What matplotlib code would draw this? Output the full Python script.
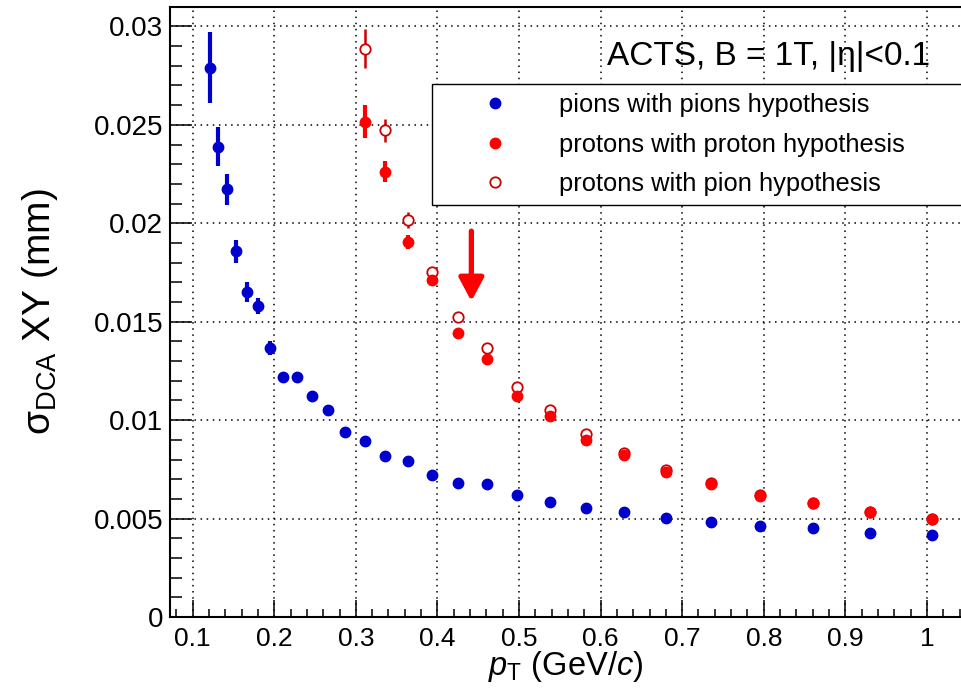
import matplotlib
matplotlib.use("Agg")
import matplotlib.pyplot as plt
from matplotlib.ticker import MultipleLocator

plt.rcParams["font.family"] = ["Liberation Sans", "DejaVu Sans"]
plt.rcParams["mathtext.fontset"] = "custom"
plt.rcParams["mathtext.rm"] = "Liberation Sans"
plt.rcParams["mathtext.it"] = "Liberation Sans:italic"

# pions with pion hypothesis
pi_pt = [0.121, 0.1313, 0.1416, 0.1534, 0.1661, 0.180, 0.1947, 0.2102, 0.2273, 0.2457,
         0.266, 0.2873, 0.311, 0.3363, 0.364, 0.3934, 0.4252, 0.4604, 0.4971, 0.5383,
         0.5819, 0.6293, 0.6804, 0.7358, 0.7958, 0.8607, 0.9305, 1.0065]
pi_sig = [0.02791, 0.0239, 0.02172, 0.01858, 0.0165, 0.01579, 0.01367, 0.01221, 0.01221, 0.01125,
          0.0105, 0.00939, 0.00896, 0.0082, 0.0079, 0.0072, 0.00681, 0.00676, 0.00618, 0.00586,
          0.00554, 0.00532, 0.00502, 0.00481, 0.00463, 0.00453, 0.00429, 0.00415]
pi_err = [0.0018, 0.001, 0.0008, 0.00058, 0.0005, 0.0004, 0.00036, 0.0002, 0.0002, 0.00015,
          0.00012, 0.0001, 0.0001, 0.0001, 0.0001, 0.0001, 0.0001, 0.0001, 0.0001, 0.0001,
          0.0001, 0.0001, 0.0001, 0.0001, 0.0001, 0.0001, 0.0001, 0.0001]

# protons, shared pT bins
p_pt = [0.311, 0.3363, 0.364, 0.3934, 0.4252, 0.4604, 0.4971, 0.5383, 0.5819, 0.6293,
        0.6804, 0.7358, 0.7958, 0.8607, 0.9305, 1.0065]
# protons with proton hypothesis
pp_sig = [0.02516, 0.02262, 0.01904, 0.01711, 0.01443, 0.01311, 0.01125, 0.0102, 0.00898, 0.00825,
          0.00735, 0.00676, 0.00615, 0.0058, 0.00532, 0.00498]
pp_err = [0.00084, 0.00053, 0.00035, 0.00025, 0.0002, 0.00015, 0.00015, 0.0001, 0.0001, 0.0001,
          0.0001, 0.0001, 0.0001, 0.0001, 0.0001, 0.0001]
# protons with pion hypothesis
ppi_sig = [0.02887, 0.02473, 0.02018, 0.01751, 0.01523, 0.01367, 0.01167, 0.01049, 0.00932, 0.00835,
           0.00749, 0.00683, 0.00619, 0.00581, 0.00535, 0.005]
ppi_err = [0.00099, 0.00058, 0.0004, 0.00025, 0.0002, 0.00015, 0.00015, 0.0001, 0.0001, 0.0001,
           0.0001, 0.0001, 0.0001, 0.0001, 0.0001, 0.0001]

y_ticks = [0, 0.005, 0.01, 0.015, 0.02, 0.025, 0.03]
y_ticklabels = ["0", "0.005", "0.01", "0.015", "0.02", "0.025", "0.03"]
x_ticks = [0.1, 0.2, 0.3, 0.4, 0.5, 0.6, 0.7, 0.8, 0.9, 1.0]
x_ticklabels = ["0.1", "0.2", "0.3", "0.4", "0.5", "0.6", "0.7", "0.8", "0.9", "1"]

blue = "#0000cc"
red = "#ff0000"
dark_red = "#cc0000"

fig = plt.figure(figsize=(9.62, 6.88), dpi=100)
ax = fig.add_axes([0.1767, 0.1032, 0.8233, 0.8870])

ax.grid(True, which="major", color="black", linestyle=(0, (1, 3)), linewidth=1.1)
ax.set_axisbelow(True)

eb_ppi = ax.errorbar(p_pt, ppi_sig, yerr=ppi_err, fmt="o", color=dark_red, mfc="white",
                     mec=dark_red, mew=1.3, ms=7.5, elinewidth=1.8, capsize=0, zorder=3)
eb_pp = ax.errorbar(p_pt, pp_sig, yerr=pp_err, fmt="o", color=red, ms=7.5, elinewidth=3,
                    capsize=0, zorder=4)
eb_pi = ax.errorbar(pi_pt, pi_sig, yerr=pi_err, fmt="o", color=blue, ms=7.5, elinewidth=3,
                    capsize=0, zorder=4)

ax.annotate("", xy=(0.4416, 0.01604), xytext=(0.4416, 0.0196),
            arrowprops=dict(arrowstyle="-|>,head_length=1.4,head_width=0.75", color=red,
                            lw=3.8, shrinkA=0, shrinkB=0))

ax.set_xlim(0.0722, 1.043)
ax.set_ylim(0, 0.031)
ax.set_xticks(x_ticks)
ax.set_xticklabels(x_ticklabels)
ax.set_yticks(y_ticks)
ax.set_yticklabels(y_ticklabels)
ax.xaxis.set_minor_locator(MultipleLocator(0.02))
ax.yaxis.set_minor_locator(MultipleLocator(0.001))
ax.tick_params(axis="both", which="both", direction="in", top=False, right=False)
ax.tick_params(axis="y", which="major", length=16, width=1.1, pad=5, labelsize=20)
ax.tick_params(axis="y", which="minor", length=8.5, width=1.1)
ax.tick_params(axis="x", which="major", length=12.5, width=1.1, pad=7, labelsize=19)
ax.tick_params(axis="x", which="minor", length=6, width=1.1)
for side in ["left", "bottom", "top"]:
    ax.spines[side].set_linewidth(1.5)
ax.spines["right"].set_visible(False)

ax.set_xlabel("$p_{\\mathrm{T}}$ (GeV/$c$)", fontsize=23.5, labelpad=-1)
ax.set_ylabel("σ$_{\\mathrm{DCA}}$ XY (mm)", fontsize=28, labelpad=24)

leg = ax.legend([eb_pi[0], eb_pp[0], eb_ppi[0]],
                ["pions with pions hypothesis", "protons with proton hypothesis",
                 "protons with pion hypothesis"],
                loc="upper left", bbox_to_anchor=(0.331, 0.873, 0.669, 0), mode="expand",
                fontsize=18.4, frameon=True, fancybox=False, framealpha=1,
                edgecolor="black", borderpad=0.35, handlelength=4.2, handletextpad=0.4,
                labelspacing=0.6, borderaxespad=0)
leg.get_frame().set_linewidth(1.0)

fig.text(0.9667, 0.9055, "ACTS, B = 1T, |η|<0.1", fontsize=24, ha="right", va="baseline")

fig.savefig("out.png", dpi=100)
